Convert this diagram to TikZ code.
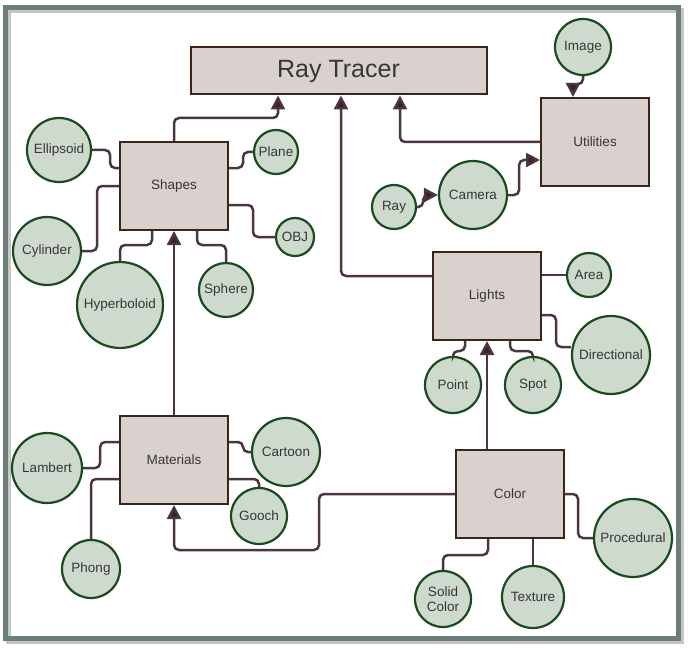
\documentclass[tikz,border=0pt]{standalone}
\usepackage{fontspec}
\setmainfont{Liberation Sans}
\usetikzlibrary{shapes,arrows.meta}
\definecolor{boxfill}{HTML}{D9D1CD}
\definecolor{boxline}{HTML}{3B2418}
\definecolor{circfill}{HTML}{CDDACD}
\definecolor{circline}{HTML}{1B4A1F}
\definecolor{wirecol}{HTML}{4B3541}
\definecolor{tipcol}{HTML}{3A1F2C}
\definecolor{framecol}{HTML}{6B7E78}
\definecolor{textcol}{HTML}{3A3535}

\begin{document}
\begin{tikzpicture}[x=1pt, y=-1pt, thick]
\tikzstyle{vertexr}=[rectangle, draw=boxline, fill=boxfill, line width=2pt, minimum width=108pt, minimum height=88pt, inner sep=2pt, text=textcol, font=\fontsize{13.5}{15}\selectfont]
\tikzstyle{vertexc}=[circle, draw=circline, fill=circfill, line width=2.2pt, inner sep=0pt, text=textcol, font=\fontsize{13.5}{15}\selectfont]
\tikzstyle{wire}=[draw=wirecol, line width=2.5pt, rounded corners=5pt]
\tikzstyle{wirearrow}=[wire, -{Triangle[length=14pt, width=14pt, fill=tipcol]}]

\useasboundingbox (0,0) rectangle (688,650);
\draw[line width=5pt, gray!45] (8.5,10.5) rectangle (681,641);
\draw[line width=5pt, framecol] (5.5,7.5) rectangle (678,638);

% main boxes
\node[vertexr, minimum width=296pt, minimum height=47pt, font=\fontsize{25}{28}\selectfont] (RT) at (338.5,71) {Ray Tracer};
\node[vertexr] (Shapes) at (174,186) {Shapes};
\node[vertexr] (Materials) at (174,460) {Materials};
\node[vertexr] (Lights) at (487,296) {Lights};
\node[vertexr] (Color) at (510,494) {Color};
\node[vertexr] (Utilities) at (595,142) {Utilities};

% leaves
\node[vertexc, minimum size=56pt] (Image) at (583,47) {Image};
\node[vertexc, minimum size=64pt] (Ellipsoid) at (59,150) {Ellipsoid};
\node[vertexc, minimum size=44pt] (Plane) at (276,152) {Plane};
\node[vertexc, minimum size=68pt] (Cylinder) at (47,251) {Cylinder};
\node[vertexc, minimum size=38pt] (OBJ) at (295,237) {OBJ};
\node[vertexc, minimum size=86pt] (Hyperboloid) at (120,305) {Hyperboloid};
\node[vertexc, minimum size=54pt] (Sphere) at (226,290) {Sphere};
\node[vertexc, minimum size=44pt] (Ray) at (394,207) {Ray};
\node[vertexc, minimum size=68pt] (Camera) at (473,195) {Camera};
\node[vertexc, minimum size=44pt] (Area) at (589,275) {Area};
\node[vertexc, minimum size=78pt] (Directional) at (611,355) {Directional};
\node[vertexc, minimum size=56pt] (Point) at (453,385) {Point};
\node[vertexc, minimum size=56pt] (Spot) at (533,385) {Spot};
\node[vertexc, minimum size=70pt] (Lambert) at (47,468) {Lambert};
\node[vertexc, minimum size=68pt] (Cartoon) at (286,452) {Cartoon};
\node[vertexc, minimum size=56pt] (Gooch) at (259,516) {Gooch};
\node[vertexc, minimum size=58pt] (Phong) at (91,569) {Phong};
\node[vertexc, minimum size=78pt] (Procedural) at (633,538) {Procedural};
\node[vertexc, minimum size=56pt, align=center, font=\fontsize{13.5}{15}\selectfont] (SolidColor) at (443,599) {Solid\\Color};
\node[vertexc, minimum size=62pt] (Texture) at (533,597) {Texture};

% into Ray Tracer
\draw[wirearrow] (Shapes.north) -- ++(0,-23) -| ([xshift=-60.5pt]RT.south);
\draw[wirearrow] ([yshift=20pt]Lights.west) -| ([xshift=2.5pt]RT.south);
\draw[wirearrow] (Utilities.west) -| ([xshift=61.5pt]RT.south);

% utilities
\draw[wirearrow] (Image.south) -- ++(0,8) -| ([xshift=-22pt]Utilities.north);
\draw[wirearrow] (Camera.east) -- ++(11,0) |- ([yshift=-18pt]Utilities.west);
\draw[wirearrow] (Ray.east) -- ++(6,0) |- (Camera.west);

% shapes
\draw[wire] (Ellipsoid.east) -- ++(18,0) |- ([yshift=18pt]Shapes.west);
\draw[wire] ([yshift=18pt]Shapes.east) -- ++(14,0) |- (Plane.west);
\draw[wire] (Cylinder.east) -- ++(15,0) |- (Shapes.west);
\draw[wire] ([yshift=-19pt]Shapes.east) -- ++(24,0) |- (OBJ.west);
\draw[wire] ([xshift=-22pt]Shapes.south) -- ++(0,14) -| (Hyperboloid.north);
\draw[wire] ([xshift=23pt]Shapes.south) -- ++(0,14) -| (Sphere.north);
\draw[wirearrow] (Materials.north) -- (Shapes.south);

% materials
\draw[wire] (Lambert.east) -- ++(17,0) |- ([yshift=18pt]Materials.west);
\draw[wire] (Phong.north) |- ([yshift=-19pt]Materials.west);
\draw[wire] ([yshift=18pt]Materials.east) -- ++(14,0) |- (Cartoon.west);
\draw[wire] ([yshift=-19pt]Materials.east) -| (Gooch.north);
\draw[wirearrow] (Color.west) -- ++(-136,0) -- ++(0,56) -| (Materials.south);

% lights
\draw[wirearrow] (Lights.south |- Color.north) -- (Lights.south);
\draw[wire] (Lights.east |- Area.west) -- (Area.west);
\draw[wire] ([yshift=-19pt]Lights.east) -- ++(14,0) |- ([yshift=8pt]Directional.west);
\draw[wire] ([xshift=-22pt]Lights.south) -- ++(0,10) -| (Point.north);
\draw[wire] ([xshift=23pt]Lights.south) -- ++(0,10) -| (Spot.north);

% color
\draw[wire] (Color.east) -- ++(13,0) |- (Procedural.west);
\draw[wire] ([xshift=-22pt]Color.south) -- ++(0,16) -| (SolidColor.north);
\draw[wire] ([xshift=23pt]Color.south) -- (Texture.north);
\end{tikzpicture}
\end{document}
